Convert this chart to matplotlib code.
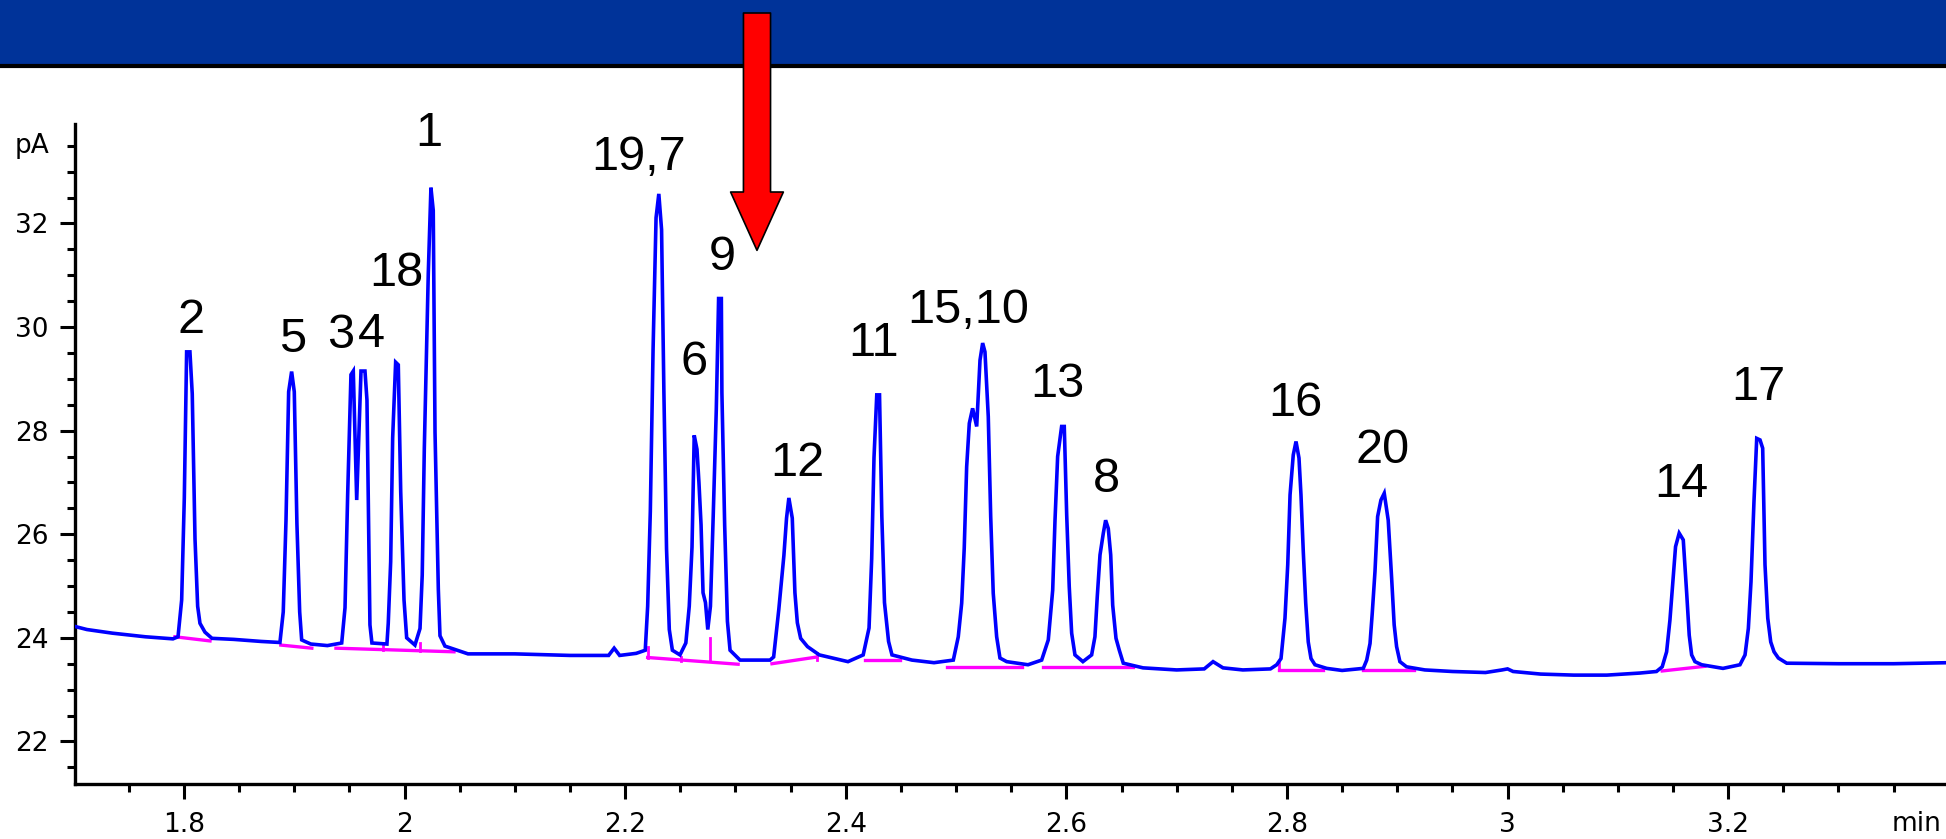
import matplotlib
matplotlib.use("Agg")
import matplotlib.pyplot as plt
from matplotlib.patches import Rectangle
from matplotlib.lines import Line2D
from matplotlib.ticker import MultipleLocator, FormatStrFormatter
import matplotlib.transforms as mtrans

# FID trace (time in min, signal in pA)
trace_t = [
    1.701, 1.712, 1.735, 1.765, 1.790,
    # 2
    1.7946, 1.7979, 1.8003, 1.8024, 1.8054, 1.8075, 1.8100, 1.8124, 1.8145, 1.8190, 1.8254,
    1.845, 1.870, 1.887,
    # 5
    1.8900, 1.8925, 1.8949, 1.8976, 1.9000, 1.9024, 1.9049, 1.9067, 1.9097,
    1.915, 1.930, 1.943,
    # 3, 4
    1.9460, 1.9484, 1.9514, 1.9535, 1.9566, 1.9605, 1.9641, 1.9659, 1.9677, 1.9686, 1.9704, 1.9840,
    # 18
    1.9852, 1.9874, 1.9892, 1.9919, 1.9943, 1.9965, 1.9995, 2.0019, 2.0094,
    # 1
    2.0140, 2.0160, 2.0179, 2.0215, 2.0239, 2.0260, 2.0276, 2.0306, 2.0321, 2.0366, 2.0575,
    2.100, 2.150, 2.185, 2.190, 2.195, 2.210,
    # 19,7
    2.2182, 2.2204, 2.2228, 2.2253, 2.2280, 2.2305, 2.2330, 2.2351, 2.2375, 2.2400, 2.2428, 2.2497,
    # 6
    2.2550, 2.2581, 2.2606, 2.2626, 2.2651, 2.2669, 2.2688, 2.2706, 2.2728, 2.2749,
    # 9
    2.2773, 2.2798, 2.2826, 2.2847, 2.2872, 2.2877, 2.2902, 2.2927, 2.2951, 2.3041, 2.3313,
    # 12
    2.3346, 2.3393, 2.3439, 2.3463, 2.3484, 2.3515, 2.3539, 2.3561, 2.3591, 2.3653, 2.3760, 2.4020,
    # 11
    2.4158, 2.4211, 2.4235, 2.4256, 2.4281, 2.4306, 2.4327, 2.4351, 2.4388, 2.4419, 2.460, 2.480,
    # 15,10
    2.4975, 2.5020, 2.5051, 2.5074, 2.5096, 2.5120, 2.5150, 2.5187, 2.5217, 2.5241, 2.5262, 2.5292,
    2.5314, 2.5337, 2.5368, 2.5398, 2.5459, 2.5652,
    # 13
    2.5776, 2.5836, 2.5876, 2.5897, 2.5921, 2.5957, 2.5981, 2.6003, 2.6026, 2.6048, 2.6078, 2.6150,
    # 8
    2.6229, 2.6259, 2.6280, 2.6305, 2.6335, 2.6356, 2.6380, 2.6402, 2.6420, 2.6450, 2.6480, 2.6516, 2.6695,
    2.700, 2.725, 2.733, 2.742, 2.760, 2.785,
    # 16
    2.7907, 2.7946, 2.7961, 2.7982, 2.8007, 2.8028, 2.8057, 2.8082, 2.8109, 2.8127, 2.8148, 2.8170,
    2.8193, 2.8218, 2.8254, 2.8360, 2.850, 2.8692,
    # 20
    2.8723, 2.8753, 2.8773, 2.8798, 2.8822, 2.8852, 2.8882, 2.8918, 2.8949, 2.8972, 2.8994, 2.9024,
    2.9084, 2.925,
    2.950, 2.980, 2.995, 3.000, 3.005, 3.030, 3.060, 3.090, 3.120, 3.135,
    # 14
    3.1402, 3.1442, 3.1472, 3.1496, 3.1523, 3.1556, 3.1593, 3.1624, 3.1647, 3.1669, 3.1699, 3.1760, 3.1953,
    # 17
    3.2107, 3.2153, 3.2183, 3.2207, 3.2234, 3.2259, 3.2289, 3.2313, 3.2334, 3.2359, 3.2386, 3.2416,
    3.2455, 3.2531, 3.300, 3.350, 3.400,
]
trace_pa = [
    24.22, 24.16, 24.09, 24.02, 23.98,
    24.02, 24.73, 26.70, 29.52, 29.52, 28.71, 25.91, 24.61, 24.28, 24.11, 23.99,
    23.97, 23.93, 23.91,
    24.50, 26.27, 28.75, 29.14, 28.75, 26.20, 24.50, 23.96, 23.93,
    23.88, 23.85, 23.90,
    24.58, 26.76, 29.08, 29.15, 26.66, 29.15, 29.15, 28.59, 25.66, 24.25, 23.90, 23.88,
    24.28, 25.47, 27.86, 29.32, 29.27, 26.82, 24.73, 24.00, 23.86,
    24.18, 25.21, 27.66, 31.04, 32.69, 32.25, 27.97, 24.94, 24.04, 23.84, 23.69,
    23.69, 23.66, 23.66, 23.80, 23.66, 23.70,
    23.76, 24.61, 26.44, 29.57, 32.11, 32.57, 31.88, 28.75, 25.72, 24.16, 23.76, 23.67,
    23.90, 24.61, 25.75, 27.91, 27.64, 26.99, 26.18, 24.87, 24.68, 24.16,
    24.61, 26.34, 28.40, 30.55, 30.55, 28.73, 26.18, 24.32, 23.76, 23.57, 23.57,
    23.63, 24.55, 25.59, 26.31, 26.70, 26.31, 24.87, 24.29, 23.99, 23.83, 23.67, 23.54,
    23.67, 24.19, 25.53, 27.48, 28.69, 28.69, 26.34, 24.68, 23.93, 23.67, 23.57, 23.52,
    23.57, 24.02, 24.67, 25.73, 27.30, 28.14, 28.43, 28.08, 29.36, 29.69, 29.52, 28.27,
    26.34, 24.86, 24.02, 23.61, 23.54, 23.48,
    23.57, 23.96, 24.92, 26.27, 27.50, 28.08, 28.08, 26.37, 24.99, 24.09, 23.67, 23.54,
    23.67, 24.02, 24.79, 25.60, 26.02, 26.27, 26.11, 25.60, 24.63, 23.99, 23.76, 23.51, 23.42,
    23.38, 23.40, 23.54, 23.42, 23.38, 23.40,
    23.48, 23.60, 23.92, 24.38, 25.41, 26.76, 27.53, 27.79, 27.47, 26.76, 25.66, 24.67,
    23.92, 23.60, 23.48, 23.41, 23.37, 23.41,
    23.57, 23.89, 24.47, 25.28, 26.34, 26.66, 26.79, 26.27, 25.15, 24.25, 23.83, 23.54,
    23.44, 23.38,
    23.35, 23.33, 23.38, 23.40, 23.35, 23.30, 23.28, 23.28, 23.32, 23.35,
    23.44, 23.73, 24.34, 25.02, 25.76, 26.02, 25.89, 24.86, 24.05, 23.67, 23.54, 23.48, 23.41,
    23.48, 23.67, 24.18, 25.08, 26.63, 27.85, 27.82, 27.66, 25.41, 24.38, 23.92, 23.73,
    23.61, 23.51, 23.50, 23.50, 23.52,
]

# integration baselines (start/end time, start/end signal)
base_t0 = [1.7918, 1.8878, 1.9378, 2.2204, 2.3331, 2.4174, 2.4920, 2.5790, 2.6205, 2.7930, 2.8686, 3.1402]
base_t1 = [1.8236, 1.9159, 2.0448, 2.3024, 2.3739, 2.4495, 2.5595, 2.6175, 2.6607, 2.8329, 2.9154, 3.1789]
base_y0 = [24.02, 23.86, 23.80, 23.62, 23.50, 23.57, 23.43, 23.43, 23.43, 23.37, 23.37, 23.36]
base_y1 = [23.94, 23.80, 23.73, 23.49, 23.63, 23.57, 23.43, 23.43, 23.43, 23.37, 23.37, 23.45]
# drop lines between unresolved peaks
drop_t = [1.9808, 2.0137, 2.2204, 2.2504, 2.2773, 2.3739, 2.7930]
drop_y0 = [23.76, 23.74, 23.62, 23.55, 23.55, 23.57, 23.37]
drop_y1 = [23.90, 23.90, 23.83, 23.63, 24.00, 23.71, 23.51]

# peak labels (text, time, signal at digit baseline)
peak_names = ["2", "5", "3", "4", "18", "1", "19,7", "6", "9", "12", "11", "15,10",
              "13", "8", "16", "20", "14", "17"]
peak_lab_t = [1.8063, 1.8984, 1.9423, 1.9695, 1.9922, 2.0221, 2.2125, 2.2624, 2.2878, 2.3558,
              2.4256, 2.5108, 2.5919, 2.6359, 2.8077, 2.8870, 3.1578, 3.2270]
peak_lab_y = [29.89, 29.52, 29.59, 29.61, 30.79, 33.49, 33.03, 29.08, 31.10, 27.12,
              29.44, 30.08, 28.65, 26.81, 28.29, 27.37, 26.72, 28.59]

x_ticks = [1.8, 2.0, 2.2, 2.4, 2.6, 2.8, 3.0, 3.2]
y_ticks = [22, 24, 26, 28, 30, 32]
arrow_t, arrow_y = 2.3195, 31.48

label_font = ["Liberation Sans Narrow", "Liberation Sans", "DejaVu Sans"]

fig = plt.figure(figsize=(19.46, 8.39), dpi=100)
ax = fig.add_axes([75 / 1946, 55 / 839, 1871 / 1946, 660 / 839])

ax.plot(trace_t, trace_pa, color="#0000ff", lw=2.6, solid_joinstyle="miter", zorder=3)
for i in range(len(base_t0)):
    ax.plot([base_t0[i], base_t1[i]], [base_y0[i], base_y1[i]], color="#ff00ff", lw=2.4, zorder=2)
for i in range(len(drop_t)):
    ax.plot([drop_t[i], drop_t[i]], [drop_y0[i], drop_y1[i]], color="#ff00ff", lw=2.0, zorder=2)

for name, t, y in zip(peak_names, peak_lab_t, peak_lab_y):
    ax.text(t, y, name, ha="center", va="baseline", fontsize=35, family=label_font,
            clip_on=False, zorder=4)

ax.set_xlim(1.7012, 3.3975)
ax.set_ylim(21.178, 33.919)
ax.xaxis.set_major_locator(MultipleLocator(0.2))
ax.xaxis.set_minor_locator(MultipleLocator(0.05))
ax.xaxis.set_major_formatter(FormatStrFormatter("%g"))
ax.set_xticks(x_ticks)
ax.set_yticks(y_ticks)
ax.yaxis.set_minor_locator(MultipleLocator(0.5))
ax.tick_params(which="major", length=11, width=2.2, direction="out", labelsize=19)
ax.tick_params(which="minor", length=5.5, width=2.2, direction="out")
ax.tick_params(axis="x", pad=9)
ax.tick_params(axis="y", pad=8)
for s in ["top", "right"]:
    ax.spines[s].set_visible(False)
for s in ["left", "bottom"]:
    ax.spines[s].set_linewidth(2.4)

# unit labels
tr = mtrans.blended_transform_factory(fig.transFigure, ax.transData)
ax.text(15 / 1946, 33.5, "pA", transform=tr, ha="left", va="center", fontsize=19, clip_on=False)
fig.text(1892 / 1946, 1 - 824 / 839, "min", ha="left", va="center", fontsize=19)

# header band
fig.patches.append(Rectangle((0, 1 - 64 / 839), 1, 64 / 839, transform=fig.transFigure,
                             facecolor="#003399", edgecolor="none", zorder=-5))
fig.add_artist(Line2D([0, 1], [1 - 65.5 / 839, 1 - 65.5 / 839], transform=fig.transFigure,
                      color="black", lw=3, zorder=-4))

# red arrow pointing into the gap after peak 9
ax.annotate("", xy=(arrow_t, arrow_y), xycoords="data",
            xytext=(757 / 1946, 1 - 13 / 839), textcoords="figure fraction",
            arrowprops=dict(facecolor="#ff0000", edgecolor="black", width=19.5, headwidth=38,
                            headlength=42, shrink=0, linewidth=1.2),
            annotation_clip=False, zorder=10)

fig.savefig("out.png", dpi=100)
